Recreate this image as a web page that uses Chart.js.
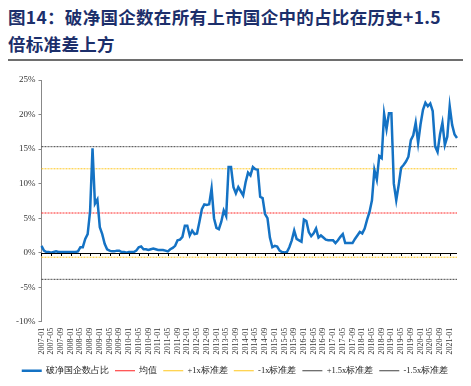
<!DOCTYPE html>
<html><head><meta charset="utf-8">
<script src="https://cdn.jsdelivr.net/npm/chart.js@4.4.1/dist/chart.umd.min.js"></script>
<style>
html,body{margin:0;padding:0;background:#fff;}
#wrap{position:relative;width:471px;height:386px;overflow:hidden;}
#title{position:absolute;left:8px;top:3px;width:462px;font-family:"Noto Sans CJK SC","Noto Sans",sans-serif;font-weight:bold;font-size:17.5px;line-height:27px;color:#1c2f6b;letter-spacing:0.3px;white-space:nowrap;}
#rule{position:absolute;left:8px;top:59px;width:455px;height:2px;background:#6e6e6e;}
#cv{position:absolute;left:0;top:61px;}
</style></head>
<body><div id="wrap">
<div id="title">图14：破净国企数在所有上市国企中的占比在历史+1.5<br>倍标准差上方</div>
<div id="rule"></div>
<canvas id="cv" width="471" height="325"></canvas>
</div>
<script>
// Monthly categories 2007-01 .. 2021-04
const startYear = 2007, startMonth = 1, monthCount = 172;
const months = [];
for (let k = 0; k < monthCount; k++) {
  const m = (startMonth - 1 + k) % 12 + 1, y = startYear + Math.floor((startMonth - 1 + k) / 12);
  months.push(y + '-' + (m < 10 ? '0' + m : m));
}
// 破净国企数占比 (%)
const shareValues = [
  1.0,0.3,0.1,0.1,0.0,0.1,0.2,0.1,0.1,0.1,0.1,0.1,
  0.1,0.1,0.1,0.2,0.8,0.8,2.0,2.7,6.0,15.1,7.1,7.7,
  3.7,2.7,1.3,0.5,0.3,0.2,0.2,0.3,0.3,0.1,0.1,0.0,
  0.1,0.1,0.1,0.3,0.8,0.9,0.5,0.5,0.4,0.5,0.6,0.5,
  0.4,0.4,0.4,0.3,0.2,0.5,0.7,1.0,1.8,1.9,2.3,3.9,
  3.9,2.5,3.2,2.7,2.8,4.5,6.3,7.0,6.9,7.0,9.3,5.0,
  3.6,3.4,4.5,6.1,5.3,12.4,12.4,9.5,8.6,9.5,8.9,8.3,
  10.2,11.6,11.2,12.4,12.1,12.0,8.1,7.9,5.6,5.0,2.2,0.8,
  1.0,0.9,0.3,0.1,0.05,0.1,0.8,1.8,3.2,2.0,1.8,1.6,
  4.8,4.6,3.0,2.4,2.8,3.5,2.2,2.5,2.2,1.9,1.8,1.8,
  1.8,1.4,1.8,2.3,2.7,1.4,1.4,1.4,1.4,2.0,2.5,3.0,
  2.8,3.5,4.8,5.9,7.6,12.0,10.6,14.0,13.7,20.1,17.9,20.2,
  20.2,10.0,7.6,9.8,12.3,12.7,13.2,13.9,16.3,17.0,18.8,15.9,
  18.6,20.7,21.7,21.2,21.6,20.5,15.4,14.6,17.1,18.8,15.6,16.8,
  21.2,18.5,17.1,16.6
];
// statistic levels (%)
const meanValue = 5.75;
const stdValue = 6.4;
const yTicks = [-10,-5,0,5,10,15,20,25];
const seriesNames = ['破净国企数占比','均值','+1x标准差','-1x标准差','+1.5x标准差','-1.5x标准差'];

const flat = v => months.map(() => v);
const serif = '"Liberation Serif","DejaVu Serif",serif';

const zeroTicks = {
  id: 'zeroTicks',
  afterDatasetsDraw(chart) {
    const x = chart.scales.x, y = chart.scales.y, ctx = chart.ctx;
    const y0 = Math.round(y.getPixelForValue(0));
    ctx.save();
    ctx.strokeStyle = '#000'; ctx.lineWidth = 1;
    ctx.beginPath();
    ctx.moveTo(x.left, y0 + 0.5); ctx.lineTo(x.right, y0 + 0.5);
    for (let k = 0; k < months.length; k += 4) {
      const px = Math.round(x.getPixelForValue(k)) + 0.5;
      ctx.moveTo(px, y0); ctx.lineTo(px, y0 + 3);
    }
    ctx.stroke();
    ctx.restore();
  }
};

new Chart(document.getElementById('cv'), {
  type: 'line',
  data: {
    labels: months,
    datasets: [
      {label: seriesNames[0], data: shareValues, borderColor: '#1472c4', backgroundColor: '#1472c4', borderWidth: 2.5, pointRadius: 0, tension: 0, order: 0},
      {label: seriesNames[1], data: flat(meanValue), borderColor: '#ff2020', borderWidth: 1, borderDash: [2,1], pointRadius: 0, order: 1},
      {label: seriesNames[2], data: flat(meanValue + stdValue), borderColor: '#ffc61a', borderWidth: 1, borderDash: [2,1], pointRadius: 0, order: 1},
      {label: seriesNames[3], data: flat(meanValue - stdValue), borderColor: '#ffc61a', borderWidth: 1, borderDash: [2,1], pointRadius: 0, order: 1},
      {label: seriesNames[4], data: flat(meanValue + 1.5 * stdValue), borderColor: '#404040', borderWidth: 1, borderDash: [2,1], pointRadius: 0, order: 1},
      {label: seriesNames[5], data: flat(meanValue - 1.5 * stdValue), borderColor: '#404040', borderWidth: 1, borderDash: [2,1], pointRadius: 0, order: 1}
    ]
  },
  options: {
    responsive: false,
    animation: false,
    layout: {padding: {left: 13, right: 14, top: 19, bottom: 1}},
    plugins: {
      legend: {
        position: 'bottom',
        labels: {
          usePointStyle: true, pointStyle: 'line', pointStyleWidth: 20,
          boxHeight: 8, padding: 6,
          font: {family: serif, size: 8.5}, color: '#222'
        }
      },
      tooltip: {enabled: false}
    },
    scales: {
      x: {
        grid: {display: false, drawTicks: false},
        border: {display: false},
        ticks: {
          autoSkip: false, maxRotation: 90, minRotation: 90, padding: 6,
          font: {family: serif, size: 8}, color: '#333',
          callback: function(v, i) { return i % 4 === 0 ? this.getLabelForValue(v) : null; }
        }
      },
      y: {
        min: -10, max: 25,
        afterBuildTicks: s => { s.ticks = yTicks.map(v => ({value: v})); },
        grid: {display: true, drawOnChartArea: false, drawTicks: true, tickLength: 3, color: '#888'},
        border: {display: true, color: '#888', width: 1},
        ticks: {font: {family: serif, size: 9}, color: '#333', padding: 3, callback: v => v + '%'}
      }
    }
  },
  plugins: [zeroTicks]
});
</script>
</body></html>
